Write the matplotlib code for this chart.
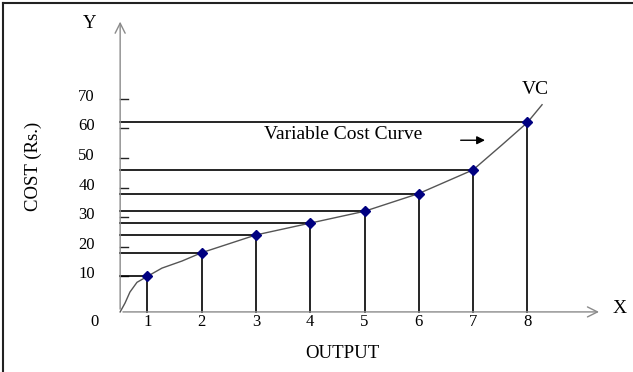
import matplotlib
matplotlib.use('Agg')
import matplotlib.pyplot as plt
from matplotlib.lines import Line2D

plt.rcParams['font.family'] = ['Liberation Serif', 'DejaVu Serif']

# data
output = [1, 2, 3, 4, 5, 6, 7, 8]
cost = [10, 18, 24, 28, 32, 38, 46, 62]
y_ticks = [10, 20, 30, 40, 50, 60, 70]
x_labels = ['1', '2', '3', '4', '5', '6', '7', '8']

# the drawn VC curve
curve_x = [0.5, 0.59, 0.68, 0.81, 1, 1.27, 1.64, 2, 3, 4, 5, 6, 7, 7.53, 8, 8.27]
curve_y = [-2, 1, 4.7, 8, 10, 12.8, 15.2, 18, 24, 28, 32, 38, 46, 54.4, 62, 68]

x0 = 0.5    # where the y axis sits
y0 = -2     # where the x axis sits

fig = plt.figure(figsize=(6.33, 3.72), dpi=100)
ax = fig.add_axes([0, 0, 1, 1])
ax.set_xlim(-93 / 54.3, 540 / 54.3)
ax.set_ylim(-66 / 2.96, 306 / 2.96)
ax.axis('off')

# frame (only left and top show)
fig.add_artist(Line2D([3 / 633, 3 / 633], [0, 1 - 3 / 372], color='#222222', lw=1.5,
                      transform=fig.transFigure))
fig.add_artist(Line2D([3 / 633, 1], [1 - 3 / 372, 1 - 3 / 372], color='#222222', lw=1.5,
                      transform=fig.transFigure))

# axes with open arrow heads
grey = '#8a8a8a'
ax.annotate('', xy=(x0, 97), xytext=(x0, y0),
            arrowprops=dict(arrowstyle='->', color=grey, lw=1, mutation_scale=18))
ax.annotate('', xy=(9.37, y0), xytext=(x0, y0),
            arrowprops=dict(arrowstyle='->', color=grey, lw=1, mutation_scale=18))
ax.text(-0.07, 95.3, 'Y', fontsize=13.5, ha='center', va='center')
ax.text(9.7, y0 + 1, 'X', fontsize=14, ha='center', va='center')

# y ticks
for v in y_ticks:
    ax.plot([x0, x0 + 0.15], [v, v], color='#222222', lw=1)
    ax.text(-0.12, v + 0.7, str(v), fontsize=12, ha='center', va='center')
ax.text(0.02, -5.4, '0', fontsize=12, ha='center', va='center')

# x tick labels
for xv, lab in zip(output, x_labels):
    ax.text(xv, -5.4, lab, fontsize=12, ha='center', va='center')

# guide lines to each point
for xv, yv in zip(output, cost):
    ax.plot([x0, xv], [yv, yv], color='black', lw=1.2)
    ax.plot([xv, xv], [y0, yv], color='black', lw=1.2)

ax.plot(curve_x, curve_y, color='#555555', lw=1)
ax.plot(output, cost, 'D', color='#000080', markersize=5)

ax.text(4.6, 57.8, 'Variable Cost Curve', fontsize=14, ha='center', va='center')
ax.annotate('', xy=(7.27, 56), xytext=(6.72, 56),
            arrowprops=dict(arrowstyle='-|>', color='black', lw=1, mutation_scale=12))
ax.text(8.15, 73, 'VC', fontsize=14, ha='center', va='center')

ax.text(4.6, -15.9, 'OUTPUT', fontsize=13.5, ha='center', va='center')
ax.text(-1.1, 47.3, 'COST (Rs.)', fontsize=13.5, ha='center', va='center', rotation=90)

fig.savefig('out.png', dpi=100)
